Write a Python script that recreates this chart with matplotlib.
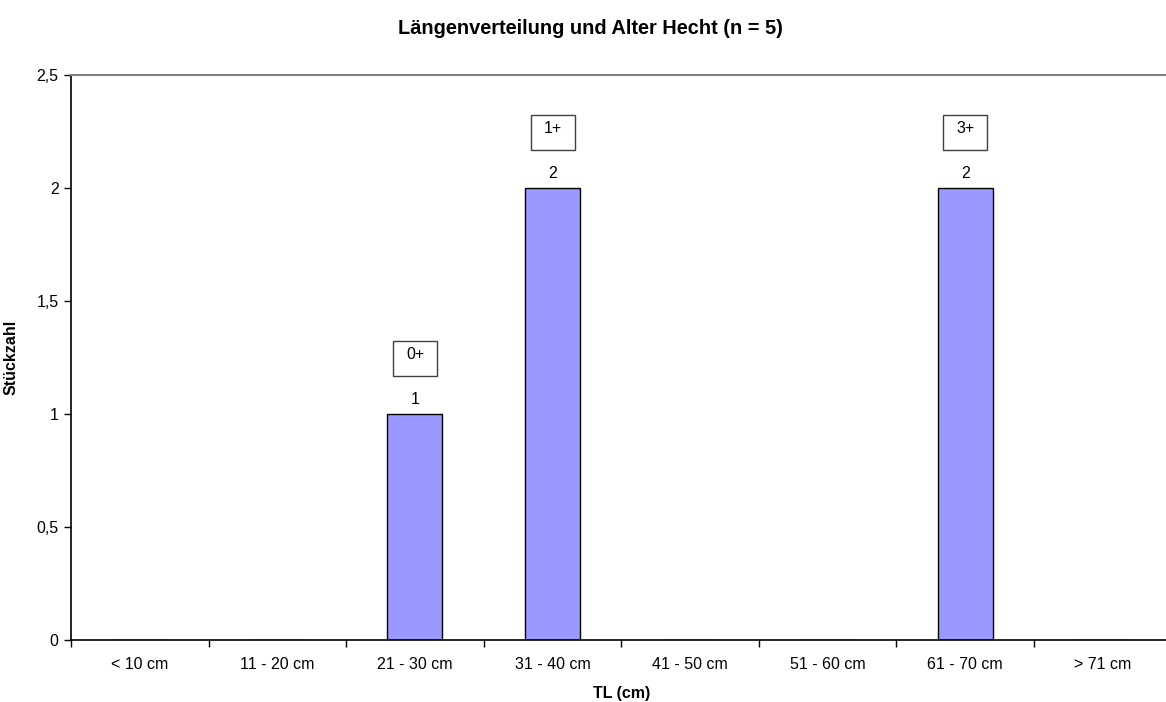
import matplotlib.pyplot as plt
from matplotlib.patches import Rectangle
from matplotlib.ticker import FixedLocator, FuncFormatter

plt.rcParams['font.family'] = ['Liberation Sans', 'DejaVu Sans']

klassen = ["< 10 cm", "11 - 20 cm", "21 - 30 cm", "31 - 40 cm",
           "41 - 50 cm", "51 - 60 cm", "61 - 70 cm", "> 71 cm"]
stueck = [0, 0, 1, 2, 0, 0, 2, 0]
alter = ["", "", "0+", "1+", "", "", "3+", ""]

fig = plt.figure(figsize=(11.66, 7.02), dpi=100)
ax = fig.add_axes([0.0609, 0.0883, 0.9439, 0.8048])

x = list(range(len(klassen)))
ax.bar(x, stueck, width=0.40, color="#9999FF", edgecolor="black", linewidth=1.0)

ax.set_xlim(-0.5, len(klassen) - 0.5)
ax.set_ylim(0, 2.5)

# Werte und Altersklassen ueber den Balken
for xi, wert, a in zip(x, stueck, alter):
    if wert == 0:
        continue
    ax.annotate(str(wert), (xi, wert), xytext=(0, 5), textcoords="offset points",
                ha="center", va="bottom", fontsize=11.5)
    box = Rectangle((xi - 0.16, wert + 0.17), 0.32, 0.155, facecolor="white",
                    edgecolor="#404040", linewidth=1.0, clip_on=False)
    ax.add_patch(box)
    ax.text(xi, wert + 0.262, a, ha="center", va="center", fontsize=11.5)

# Teilstriche an den Klassengrenzen, Beschriftung in der Mitte
ax.xaxis.set_major_locator(FixedLocator([i - 0.5 for i in range(len(klassen) + 1)]))
ax.xaxis.set_major_formatter(FuncFormatter(lambda v, p: ""))
ax.xaxis.set_minor_locator(FixedLocator(x))
ax.xaxis.set_minor_formatter(FuncFormatter(lambda v, p: klassen[int(round(v))]))
ax.tick_params(axis="x", which="major", direction="out", length=5, width=1, color="black")
ax.tick_params(axis="x", which="minor", length=0, pad=12, labelsize=11.5)

ax.set_yticks([0, 0.5, 1, 1.5, 2, 2.5])
ax.yaxis.set_major_formatter(FuncFormatter(lambda v, p: f"{v:g}".replace(".", ",")))
ax.tick_params(axis="y", direction="out", length=5, width=1, labelsize=11.5, pad=4)

for s in ["left", "bottom"]:
    ax.spines[s].set_color("black")
    ax.spines[s].set_linewidth(1.2)
for s in ["top", "right"]:
    ax.spines[s].set_color("#808080")
    ax.spines[s].set_linewidth(1.5)

ax.set_xlabel("TL (cm)", fontsize=11.5, fontweight="bold", labelpad=10)
ax.set_ylabel("Stückzahl", fontsize=11.5, fontweight="bold")
ax.yaxis.set_label_coords(-0.048, 0.5)
fig.text(0.506, 0.960, "Längenverteilung und Alter Hecht (n = 5)", ha="center", va="center",
         fontsize=14.4, fontweight="bold")

fig.savefig("out.png", dpi=100)
